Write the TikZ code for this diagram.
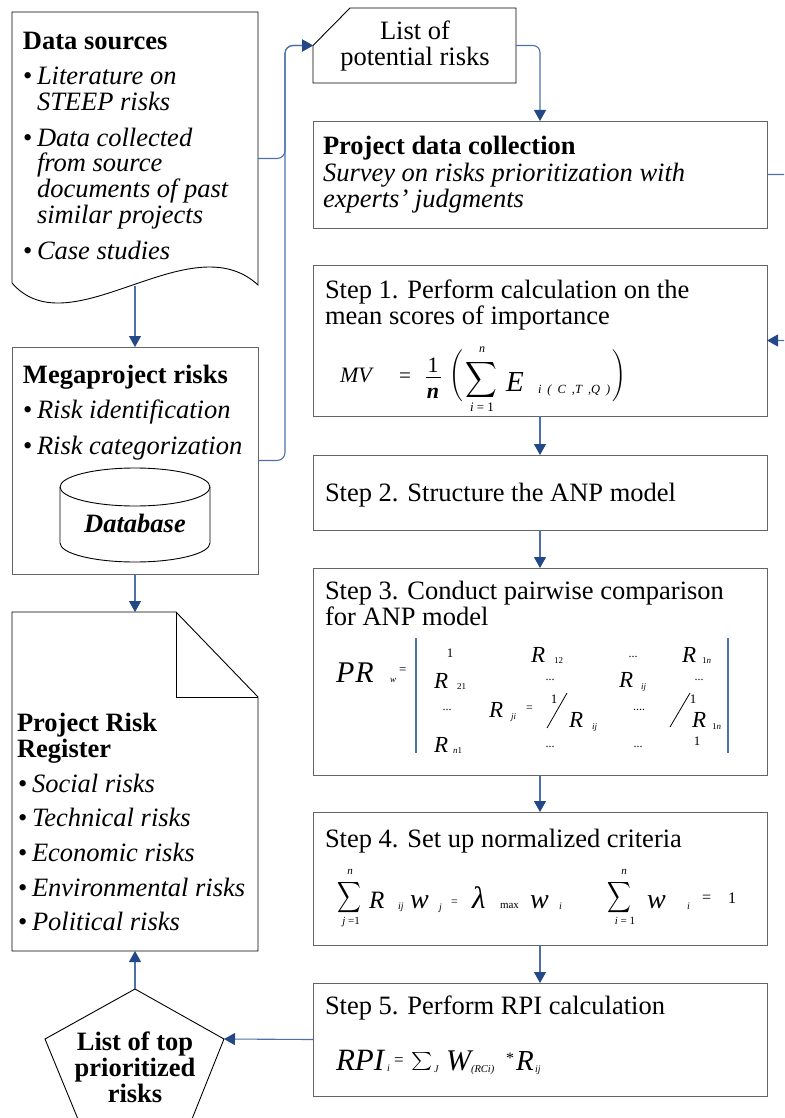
\documentclass[tikz,border=0pt]{standalone}
\usepackage{amsmath}
\usepackage{fontspec}
\setmainfont{Liberation Serif}
\usepackage{graphicx}
\usetikzlibrary{arrows.meta}

\definecolor{linkblue}{RGB}{78,112,168}
\definecolor{tipblue}{RGB}{35,72,136}
\definecolor{boxgray}{RGB}{100,100,100}

\newcommand\fsz[2]{\fontsize{#1}{#2}\selectfont}
% summation sign, stretched from its 10pt display form
\newcommand\sumsign[2]{\scalebox{#1}[#2]{\fontsize{10}{10}\selectfont$\displaystyle\sum$}}
\newcommand\sumtext[2]{\scalebox{#1}[#2]{\fontsize{10}{10}\selectfont$\textstyle\sum$}}
\newcommand\bul{\noindent\llap{\textbullet\hspace{4.5pt}}}

\begin{document}
\begin{tikzpicture}[x=1pt,y=-1pt,
  frame/.style={draw=none, inner sep=0pt, outer sep=0pt},
  stepbox/.style={draw=boxgray, line width=0.9pt, inner sep=0pt, outer sep=0pt, minimum width=454pt},
  outline/.style={draw=black, line width=0.9pt},
  link/.style={draw=linkblue, line width=1.1pt, -{Triangle[width=12pt,length=11pt,color=tipblue]}},
  matbar/.style={draw=linkblue, line width=1.1pt},
  tx/.style={inner sep=0pt, outer sep=0pt, anchor=base west},
  tc/.style={inner sep=0pt, outer sep=0pt, anchor=base},
  mid/.style={inner sep=0pt, outer sep=0pt, anchor=center},
]
\useasboundingbox (0,0) rectangle (784,1118);
\clip (0,0) rectangle (784,1118);

% ---------- left column ----------
% document shape: data sources
\node[frame, minimum width=246pt, minimum height=293pt] (ds) at (135,158.5) {};
\draw[outline] (12,12) -- (258,12) -- (258,285)
  .. controls (190,222) and (70,350) .. (12,283) -- cycle;
\coordinate (dsb) at (135,285.5);
\node[tx] (dsText) at (23,50) {\parbox[t]{232pt}{\fsz{26.5}{25.7}\raggedright
  \textbf{Data sources}\par\vspace{8.8pt}
  \leftskip=14pt
  \bul\textit{Literature on\\STEEP risks}\par\vspace{10.3pt}
  \bul\textit{Data collected\\from source\\documents of past\\similar projects}\par\vspace{10.3pt}
  \bul\textit{Case studies}\par}};

% megaproject risks with database
\node[stepbox, minimum width=246pt, minimum height=227pt] (mega) at (135,460.5) {};
\node[tx] (megaText) at (23,383) {\parbox[t]{232pt}{\fsz{26.5}{26.5}\raggedright
  \textbf{Megaproject risks}\par\vspace{8.5pt}
  \leftskip=14pt
  \bul\textit{Risk identification}\par\vspace{9.5pt}
  \bul\textit{Risk categorization}\par}};
\draw[outline] (60,487) -- (60,543)
  .. controls (60,553.5) and (93.6,562) .. (135,562)
  .. controls (176.4,562) and (210,553.5) .. (210,543) -- (210,487);
\draw[outline] (135,487) ellipse [x radius=75, y radius=19];
\node[tc] (dbText) at (135,532) {\fsz{26.5}{26.5}\textbf{\textit{Database}}};

% project risk register (folded document)
\node[frame, minimum width=246pt, minimum height=339pt] (reg) at (135,781.5) {};
\draw[outline] (12,612) -- (176,612) -- (258,697) -- (258,951) -- (12,951) -- cycle;
\draw[outline] (176,612) -- (176,697) -- (258,697);
\node[tx] (regText) at (17,731) {\parbox[t]{238pt}{\fsz{26.5}{26.5}\raggedright
  \textbf{Project Risk\\Register}\par\vspace{8pt}
  \leftskip=15pt
  \bul\textit{Social risks}\par\vspace{8.2pt}
  \bul\textit{Technical risks}\par\vspace{8.2pt}
  \bul\textit{Economic risks}\par\vspace{8.2pt}
  \bul\textit{Environmental risks}\par\vspace{8.2pt}
  \bul\textit{Political risks}\par}};

% pentagon: list of top prioritized risks
\draw[outline] (135,989) -- (224,1039) -- (190,1124) -- (80,1124) -- (45,1039) -- cycle;
\coordinate (topN) at (135,989);
\coordinate (topE) at (224,1039);
\node[tc] (topText) at (135,1050) {\parbox[t]{150pt}{\centering\fsz{26.5}{26}\textbf{List of top\\prioritized\\risks}}};

% ---------- right column ----------
% manual input: list of potential risks
\node[frame, minimum width=203pt, minimum height=75pt] (list) at (414.5,45.5) {};
\draw[outline] (350,8) -- (516,8) -- (516,83) -- (313,83) -- (313,45.5) -- cycle;
\node[tc] (listText) at (415,40) {\parbox[t]{200pt}{\centering\fsz{26.5}{26}List of\\potential risks}};

\node[stepbox, minimum height=107pt] (pdc) at (540,174.5) {};
\node[tx] (pdcText) at (323,155) {\parbox[t]{440pt}{\fsz{26.5}{26.5}\raggedright
  \textbf{Project data collection}\\\textit{Survey on risks prioritization with\\experts' judgments}}};

\node[stepbox, minimum height=151pt] (step1) at (540,340.5) {};
\node[tx] (s1Text) at (325,298) {\parbox[t]{440pt}{\fsz{26.5}{26}\raggedright
  Step 1. Perform calculation on the\\mean scores of importance}};

\node[stepbox, minimum height=75pt] (step2) at (540,492.5) {};
\node[tx] (s2Text) at (325,501) {\fsz{26.5}{26}Step 2. Structure the ANP model};

\node[stepbox, minimum height=207pt] (step3) at (540,671.5) {};
\node[tx] (s3Text) at (325,599) {\parbox[t]{440pt}{\fsz{26.5}{26}\raggedright
  Step 3. Conduct pairwise comparison\\for ANP model}};

\node[stepbox, minimum height=133pt] (step4) at (540,878.5) {};
\node[tx] (s4Text) at (325,847) {\fsz{26.5}{26}Step 4. Set up normalized criteria};

\node[stepbox, minimum height=113pt] (step5) at (540,1039.5) {};
\node[tx] (s5Text) at (325,1014) {\fsz{26.5}{26}Step 5. Perform RPI calculation};

% ---------- formula of step 1 ----------
\node[tx] (f1mv) at (340,382) {\fsz{22}{22}\textit{MV}};
\node[tx] (f1eq) at (399,382) {\fsz{21}{21}=};
\node[tc] (f1num) at (433,372) {\fsz{22}{22}1};
\node[tc] (f1den) at (433,398) {\fsz{22}{22}\textbf{\textit{n}}};
\draw[line width=0.9pt] (426,377.5) -- (441,377.5);
\node[mid] (f1lp) at (456,376) {\fsz{19}{19}$\Biggl($};
\node[mid] (f1rp) at (619,376) {\fsz{19}{19}$\Biggr)$};
\node[mid] (f1sum) at (481,380) {\sumsign{2.2}{2.5}};
\node[tc] (f1up) at (482,352) {\fsz{12}{12}\textit{n}};
\node[tc] (f1lo) at (482,411) {\fsz{13}{13}\textit{i} = 1};
\node[tx] (f1e) at (506,391) {\fsz{29}{29}\textit{E}};
\node[tx] (f1sub) at (538,393) {\fsz{12.5}{12.5}\textit{i\hspace{6pt}(\hspace{6pt}C\hspace{6pt},T\hspace{6pt},Q\hspace{6pt})}};

% ---------- formula of step 3 ----------
\node[tx] (f3pr) at (336,682) {\fsz{30}{30}\textit{P\hspace{1pt}R}};
\node[tx] (f3w) at (390,682) {\fsz{9}{9}\textit{w}};
\node[tx] (f3eq) at (399,673) {\fsz{13}{13}=};
\draw[matbar] (416,638) -- (416,753);
\draw[matbar] (728,638) -- (728,753);
% row 1
\node[tc] (m11) at (450,657) {\fsz{13}{13}1};
\node[tx] (m12) at (531,662) {\fsz{23}{23}\textit{R}};
\node[tx] (m12s) at (554,663) {\fsz{9}{9}12};
\node[tc] (m13) at (633,657) {\fsz{12}{12}...};
\node[tx] (m14) at (682,662) {\fsz{23}{23}\textit{R}};
\node[tx] (m14s) at (702,663) {\fsz{9}{9}1\textit{n}};
% row 2
\node[tx] (m21) at (434,688) {\fsz{23}{23}\textit{R}};
\node[tx] (m21s) at (457,689) {\fsz{9}{9}21};
\node[tc] (m22) at (550,680) {\fsz{12}{12}...};
\node[tx] (m23) at (619,687) {\fsz{23}{23}\textit{R}};
\node[tx] (m23s) at (641,689) {\fsz{9}{9}\textit{ij}};
\node[tc] (m24) at (699,680) {\fsz{12}{12}...};
% row 3
\node[tc] (m31) at (447,710) {\fsz{12}{12}...};
\node[tx] (m32) at (489,717) {\fsz{23}{23}\textit{R}};
\node[tx] (m32s) at (511,719) {\fsz{9}{9}\textit{ji}};
\node[tx] (m32e) at (526,711) {\fsz{12}{12}=};
\node[tc] (m32n) at (554,703) {\fsz{13}{13}1};
\draw[line width=0.8pt] (547,728) -- (567,693);
\node[tx] (m32d) at (569,727) {\fsz{23}{23}\textit{R}};
\node[tx] (m32ds) at (592,729) {\fsz{9}{9}\textit{ij}};
\node[tc] (m33) at (639,710) {\fsz{12}{12}....};
\node[tc] (m34n) at (693,703) {\fsz{13}{13}1};
\draw[line width=0.8pt] (670,727) -- (690,693);
\node[tx] (m34d) at (692,727) {\fsz{23}{23}\textit{R}};
\node[tx] (m34ds) at (712,729) {\fsz{9}{9}1\textit{n}};
% row 4
\node[tx] (m41) at (434,752) {\fsz{23}{23}\textit{R}};
\node[tx] (m41s) at (453,753) {\fsz{9}{9}\textit{n}1};
\node[tc] (m42) at (550,747) {\fsz{12}{12}...};
\node[tc] (m43) at (638,747) {\fsz{12}{12}...};
\node[tc] (m44) at (697,745) {\fsz{13}{13}1};

% ---------- formula of step 4 ----------
\node[mid] (f4s1) at (349,898) {\sumsign{1.65}{2.15}};
\node[tc] (f4s1u) at (350,874) {\fsz{11}{11}\textit{n}};
\node[tc] (f4s1l) at (351,924) {\fsz{11}{11}\textit{j} =1};
\node[tx] (f4r) at (369,908) {\fsz{25}{25}\textit{R}};
\node[tx] (f4rs) at (398,909) {\fsz{10}{10}\textit{ij}};
\node[tx] (f4w1) at (410,908) {\fsz{28}{28}\textit{w}};
\node[tx] (f4w1s) at (439,910) {\fsz{10}{10}\textit{j}};
\node[tx] (f4eq1) at (451,905) {\fsz{12}{12}=};
\node[tx] (f4lam) at (472,908) {\fsz{31}{31}\textit{λ}};
\node[tx] (f4max) at (500,908) {\fsz{11}{11}max};
\node[tx] (f4w2) at (530,908) {\fsz{28}{28}\textit{w}};
\node[tx] (f4w2s) at (559,909) {\fsz{10}{10}\textit{i}};
\node[mid] (f4s2) at (619,898) {\sumsign{1.65}{2.15}};
\node[tc] (f4s2u) at (624,874) {\fsz{11}{11}\textit{n}};
\node[tc] (f4s2l) at (625,924) {\fsz{11}{11}\textit{i} = 1};
\node[tx] (f4w3) at (647,908) {\fsz{28}{28}\textit{w}};
\node[tx] (f4w3s) at (687,909) {\fsz{10}{10}\textit{i}};
\node[tx] (f4eq2) at (702,902) {\fsz{16}{16}=};
\node[tx] (f4one) at (728,903) {\fsz{16}{16}1};

% ---------- formula of step 5 ----------
\node[tx] (f5rpi) at (336,1070) {\fsz{31}{31}\textit{RPI}};
\node[tx] (f5rpis) at (387,1071) {\fsz{10}{10}\textit{i}};
\node[tx] (f5eq) at (394,1065) {\fsz{17}{17}=};
\node[mid] (f5sum) at (422,1061) {\sumtext{2.0}{1.8}};
\node[tx] (f5j) at (434,1072) {\fsz{10}{10}\textit{J}};
\node[tx] (f5w) at (446,1070) {\fsz{30}{30}\textit{W}};
\node[tx] (f5ws) at (471,1072) {\fsz{10.5}{10.5}\textit{(RCi)}};
\node[tx] (f5ast) at (506,1063) {\fsz{16}{16}*};
\node[tx] (f5r) at (516,1070) {\fsz{29}{29}\textit{R}};
\node[tx] (f5rs) at (535,1072) {\fsz{10}{10}\textit{ij}};

% ---------- connectors ----------
\coordinate (bus) at (285,45.5);
\draw[link, rounded corners=8pt] (ds.east) -| (bus) -- (list.west);
\draw[link, rounded corners=8pt] (mega.east) -| (bus) -- (list.west);
\draw[link, rounded corners=7pt] (list.east) -| (pdc.north);
\draw[link, rounded corners=8pt] (pdc.east) -- ++(45,0) |- (step1.east);
\draw[link] (step1.south) -- (step2.north);
\draw[link] (step2.south) -- (step3.north);
\draw[link] (step3.south) -- (step4.north);
\draw[link] (step4.south) -- (step5.north);
\draw[link] (dsb) -- (mega.north);
\draw[link] (mega.south) -- (reg.north);
\draw[link] (topN) -- (reg.south);
\draw[link] (step5.west) -- (topE);
\end{tikzpicture}
\end{document}
